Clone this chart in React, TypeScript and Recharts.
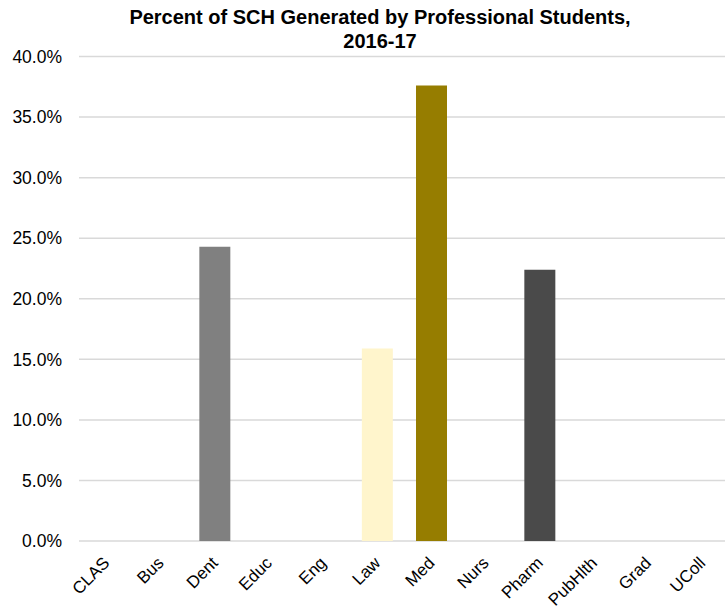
import React from 'react';
import { Bar, BarChart, CartesianGrid, Cell, XAxis, YAxis } from 'recharts';

// Share of student credit hours generated by professional students, by college
const categories = ['CLAS', 'Bus', 'Dent', 'Educ', 'Eng', 'Law', 'Med', 'Nurs', 'Pharm', 'PubHlth', 'Grad', 'UColl'];
const percentValues = [0, 0, 24.3, 0, 0, 15.9, 37.6, 0, 22.4, 0, 0, 0];
const barColors = ['#808080', '#808080', '#808080', '#808080', '#808080', '#FFF5CC', '#967D00', '#808080', '#4A4A4A', '#808080', '#808080', '#808080'];
const yTicks = [0, 5, 10, 15, 20, 25, 30, 35, 40];
const titleLines = ['Percent of SCH Generated by Professional Students,', '2016-17'];

const FONT = '"Liberation Sans", Arial, sans-serif';

const data = categories.map((name, i) => ({ name, value: percentValues[i] }));

// excel-style slanted labels, right end of the text sits just below the category
function RotatedTick(props: any) {
  const { x, y, payload } = props;
  const ax = x + 4.5;
  const ay = y + 15;
  return (
    <g transform={`translate(${ax} ${ay}) rotate(-45)`}>
      <text x={0} y={0} textAnchor="end" fontSize={17} fontFamily={FONT} fill="#000">
        {payload.value}
      </text>
    </g>
  );
}

export default function App() {
  return (
    <div
      style={{
        position: 'absolute',
        left: 0,
        top: 0,
        width: 725,
        height: 610,
        overflow: 'hidden',
        background: '#fff',
        fontFamily: FONT
      }}
    >
      <div
        style={{
          position: 'absolute',
          left: 0,
          top: 4.5,
          width: 760,
          textAlign: 'center',
          fontSize: 20,
          fontWeight: 'bold',
          lineHeight: '24px',
          color: '#000'
        }}
      >
        {titleLines.map(line => (
          <div key={line}>{line}</div>
        ))}
      </div>
      <BarChart
        width={730}
        height={610}
        data={data}
        margin={{ top: 56.5, right: 1, left: 0, bottom: 0 }}
        barSize={31}
      >
        <CartesianGrid vertical={false} stroke="#D9D9D9" strokeWidth={1.5} />
        <XAxis
          dataKey="name"
          axisLine={false}
          tickLine={false}
          interval={0}
          height={69}
          tick={<RotatedTick />}
        />
        <YAxis
          width={79}
          domain={[0, 40]}
          ticks={yTicks}
          axisLine={false}
          tickLine={false}
          tickMargin={11}
          tickFormatter={(v: number) => `${v.toFixed(1)}%`}
          tick={{ fontSize: 17.5, fill: '#000', fontFamily: FONT }}
        />
        <Bar dataKey="value" isAnimationActive={false}>
          {data.map((d, i) => (
            <Cell key={d.name} fill={barColors[i]} />
          ))}
        </Bar>
      </BarChart>
    </div>
  );
}
